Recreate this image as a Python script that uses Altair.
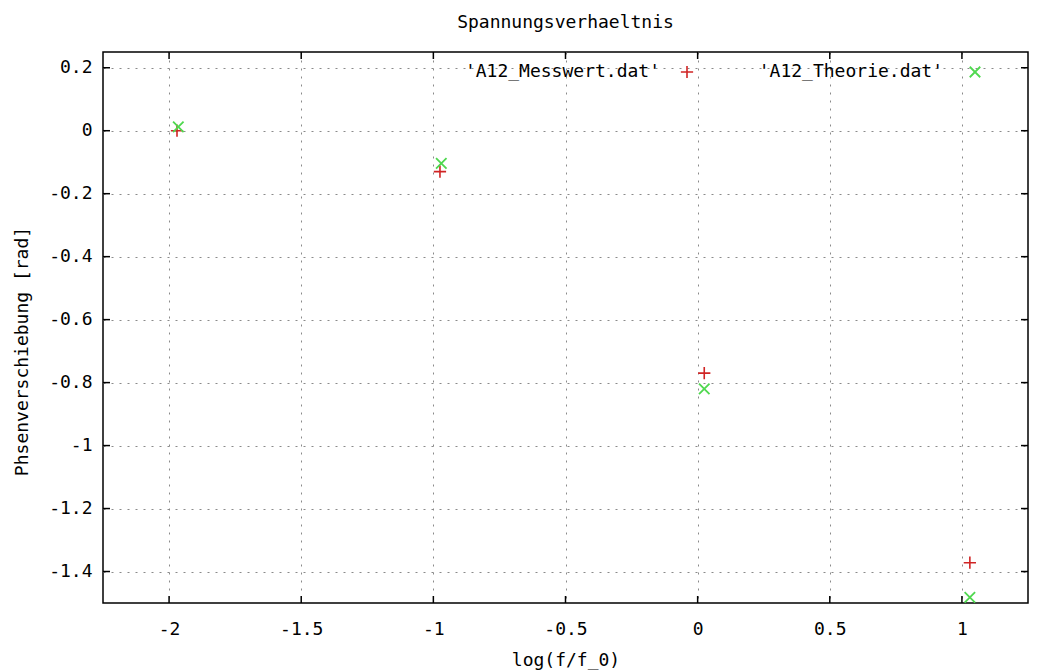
import altair as alt
import pandas as pd

# Text
title_text = "Spannungsverhaeltnis"
x_title = "log(f/f_0)"
y_title = "Phsenverschiebung [rad]"
series_names = ["'A12_Messwert.dat'", "'A12_Theorie.dat'"]

# Measured values
x_meas = [-1.97, -0.975, 0.025, 1.03]
y_meas = [0.0, -0.13, -0.77, -1.372]

# Theoretical values
x_theo = [-1.965, -0.97, 0.025, 1.03]
y_theo = [0.012, -0.104, -0.82, -1.482]

# Axis ticks
x_ticks = [-2, -1.5, -1, -0.5, 0, 0.5, 1]
y_ticks = [-1.4, -1.2, -1, -0.8, -0.6, -0.4, -0.2, 0, 0.2]
x_domain = [-2.25, 1.25]
y_domain = [-1.5, 0.25]

W, H = 925, 551
FONT = "DejaVu Sans Mono"
FS = 18
RED = "#d02424"
GREEN = "#4fd84f"
PLUS = "M-1,0L1,0M0,-1L0,1"
CROSS = "M-1,-1L1,1M-1,1L1,-1"
TICK = 7

xs = alt.Scale(domain=x_domain, nice=False, zero=False)
ys = alt.Scale(domain=y_domain, nice=False, zero=False)

x_axis = alt.Axis(
    values=x_ticks, grid=True, gridColor="#8a8a8a", gridDash=[2, 6], gridWidth=1,
    ticks=False, domain=False, labelPadding=17, labelFont=FONT, labelFontSize=FS,
    labelColor="black", labelExpr="toString(datum.value)", title=x_title,
    titleFont=FONT, titleFontSize=FS, titleFontWeight="normal", titleColor="black",
    titleY=57, titleBaseline="middle", labelFlush=False,
)
y_axis = alt.Axis(
    values=y_ticks, grid=True, gridColor="#8a8a8a", gridDash=[2, 6], gridWidth=1,
    ticks=False, domain=False, labelPadding=11, labelFont=FONT, labelFontSize=FS,
    labelColor="black", labelExpr="toString(datum.value)", title=y_title,
    titleFont=FONT, titleFontSize=FS, titleFontWeight="normal", titleColor="black",
    titleAngle=270, titleX=-81, titleY=299, titleBaseline="middle", titleAlign="center",
    labelFlush=False,
)


def X(field="x"):
    return alt.X(f"{field}:Q", scale=xs, axis=x_axis)


def Y(field="y"):
    return alt.Y(f"{field}:Q", scale=ys, axis=y_axis)


meas = pd.DataFrame({"x": x_meas, "y": y_meas})
theo = pd.DataFrame({"x": x_theo, "y": y_theo})
xt = pd.DataFrame({"x": x_ticks})
yt = pd.DataFrame({"y": y_ticks})

meas_pts = alt.Chart(meas).mark_point(
    shape=PLUS, size=150, filled=False, stroke=RED, strokeWidth=1.6, opacity=1
).encode(x=X(), y=Y())

theo_pts = alt.Chart(theo).mark_point(
    shape=CROSS, size=110, filled=False, stroke=GREEN, strokeWidth=1.8, opacity=1
).encode(x=X(), y=Y())

# inward ticks on all four sides
tick_style = dict(color="black", strokeWidth=1.5)
x_bottom = alt.Chart(xt).mark_rule(**tick_style).encode(
    x=X(), y=alt.value(H), y2=alt.value(H - TICK))
x_top = alt.Chart(xt).mark_rule(**tick_style).encode(
    x=X(), y=alt.value(0), y2=alt.value(TICK))
y_left = alt.Chart(yt).mark_rule(**tick_style).encode(
    y=Y(), x=alt.value(0), x2=alt.value(TICK))
y_right = alt.Chart(yt).mark_rule(**tick_style).encode(
    y=Y(), x=alt.value(W), x2=alt.value(W - TICK))

# key in the top-right corner: label followed by its symbol
key1 = pd.DataFrame({"label": [series_names[0]]})
key2 = pd.DataFrame({"label": [series_names[1]]})
key_text = dict(font=FONT, fontSize=FS, color="black", align="right", baseline="middle")
k1_t = alt.Chart(key1).mark_text(**key_text).encode(
    text="label:N", x=alt.value(557), y=alt.value(20))
k1_s = alt.Chart(key1).mark_point(
    shape=PLUS, size=150, filled=False, stroke=RED, strokeWidth=1.6, opacity=1
).encode(x=alt.value(584), y=alt.value(20))
k2_t = alt.Chart(key2).mark_text(**key_text).encode(
    text="label:N", x=alt.value(840), y=alt.value(20))
k2_s = alt.Chart(key2).mark_point(
    shape=CROSS, size=110, filled=False, stroke=GREEN, strokeWidth=1.8, opacity=1
).encode(x=alt.value(872), y=alt.value(20))

chart = alt.layer(
    x_bottom, x_top, y_left, y_right, meas_pts, theo_pts, k1_t, k1_s, k2_t, k2_s
).properties(
    width=W,
    height=H,
    autosize="none",
    padding={"left": 103, "top": 52, "right": 19, "bottom": 69},
    title=alt.TitleParams(
        text=title_text, font=FONT, fontSize=FS, fontWeight="normal", color="black",
        anchor="middle", frame="group", offset=19,
    ),
    background="white",
).configure_view(stroke="black", strokeWidth=1.5)

chart.save("out.html", embed_options={"renderer": "svg", "actions": False})
